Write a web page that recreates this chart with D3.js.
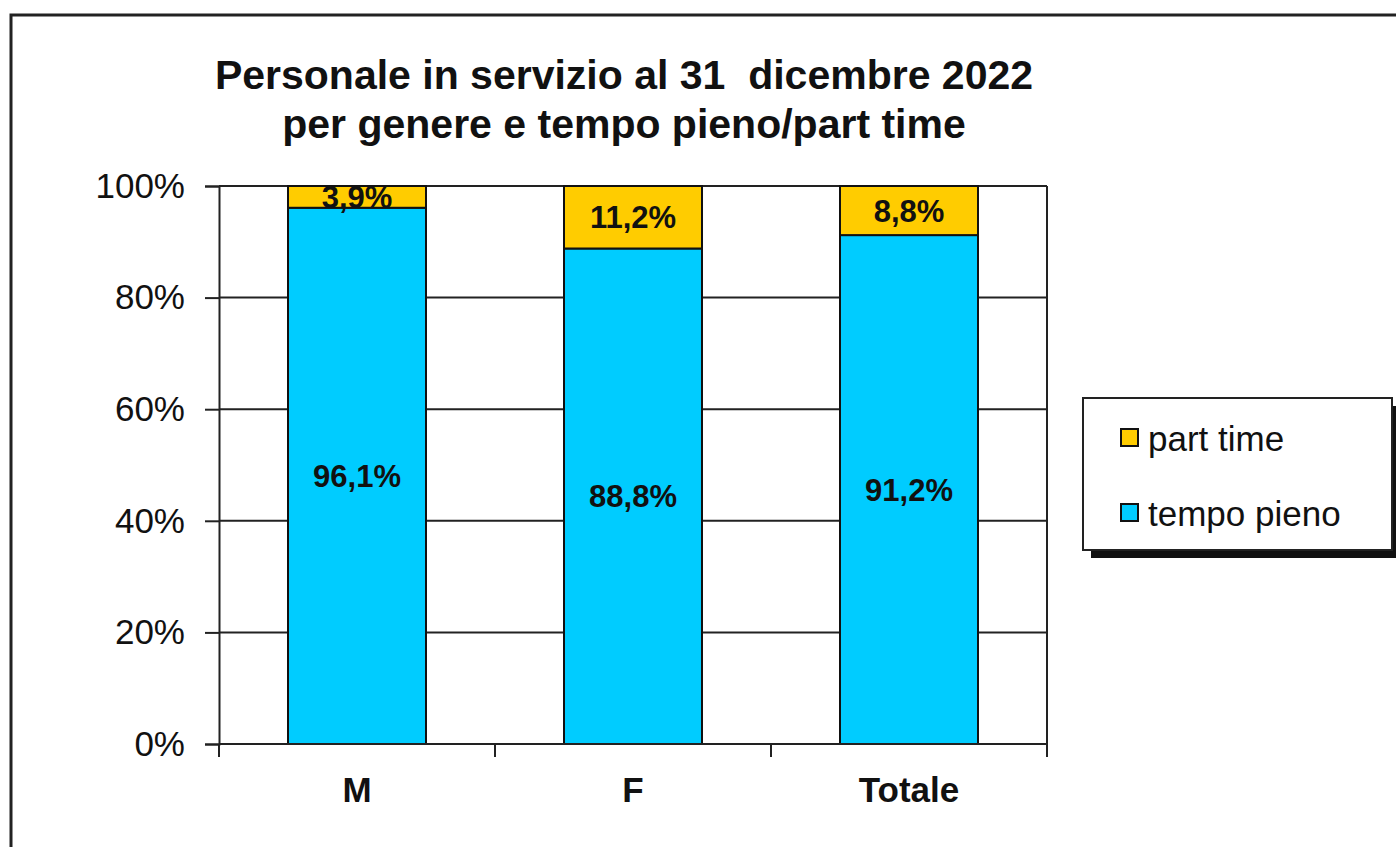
<!DOCTYPE html>
<html>
<head>
<meta charset="utf-8">
<script src="https://cdn.jsdelivr.net/npm/d3@7/dist/d3.min.js"></script>
<style>
  html, body { margin: 0; padding: 0; background: #fff; }
  svg { display: block; }
  text { font-family: "Liberation Sans", Arial, sans-serif; fill: #111; }
</style>
</head>
<body>
<svg id="chart" width="1396" height="847"></svg>
<script>
// Data
const categories = ["M", "F", "Totale"];
const tempoPieno = [96.1, 88.8, 91.2];
const partTime = [3.9, 11.2, 8.8];
const yTicks = [0, 20, 40, 60, 80, 100];
const seriesNames = ["tempo pieno", "part time"];
const seriesColors = ["#00CCFF", "#FFCC00"];
const titleLines = ["Personale in servizio al 31  dicembre 2022", "per genere e tempo pieno/part time"];

const svg = d3.select("#chart");

// outer chart frame
svg.append("rect")
  .attr("x", 11).attr("y", 15)
  .attr("width", 1400).attr("height", 850)
  .attr("fill", "#fff").attr("stroke", "#222").attr("stroke-width", 3);

// title
svg.append("g").selectAll("text").data(titleLines).join("text")
  .attr("x", 624).attr("y", (d, i) => 89 + i * 49)
  .attr("text-anchor", "middle")
  .style("font-size", "41px").style("font-weight", "bold")
  .style("white-space", "pre")
  .text(d => d);

const plot = { left: 219, right: 1047, top: 186, bottom: 744 };

const x = d3.scaleBand().domain(categories)
  .range([plot.left, plot.right]).paddingInner(0.5).paddingOuter(0.25);
const y = d3.scaleLinear().domain([0, 100]).range([plot.bottom, plot.top]);

// gridlines
svg.append("g").selectAll("line").data(yTicks).join("line")
  .attr("x1", plot.left).attr("x2", plot.right)
  .attr("y1", d => y(d)).attr("y2", d => y(d))
  .attr("stroke", "#222").attr("stroke-width", 2);

// right border of plot area
svg.append("line")
  .attr("x1", plot.right).attr("x2", plot.right)
  .attr("y1", plot.top).attr("y2", plot.bottom)
  .attr("stroke", "#222").attr("stroke-width", 2);

// y axis
const yAxis = d3.axisLeft(y).tickValues(yTicks).tickSize(14).tickPadding(20)
  .tickFormat(d => d + "%");
const gy = svg.append("g").attr("transform", `translate(${plot.left},0)`).call(yAxis);
gy.select(".domain").attr("stroke", "#222").attr("stroke-width", 2);
gy.selectAll(".tick line").attr("stroke", "#222").attr("stroke-width", 2);
gy.selectAll(".tick text").style("font-size", "35px").style("font-family", "'Liberation Sans', Arial, sans-serif").attr("fill", "#111");

// stacked bars
const rows = categories.map((c, i) => ({ cat: c, "tempo pieno": tempoPieno[i], "part time": partTime[i] }));
const stacked = d3.stack().keys(seriesNames)(rows);

const layers = svg.append("g").selectAll("g").data(stacked).join("g")
  .attr("fill", (d, i) => seriesColors[i]);
layers.selectAll("rect").data(d => d).join("rect")
  .attr("x", d => x(d.data.cat))
  .attr("width", x.bandwidth())
  .attr("y", d => y(d[1]))
  .attr("height", d => y(d[0]) - y(d[1]))
  .attr("stroke", "#111").attr("stroke-width", 2);

// x axis (bottom)
const xEdges = [plot.left, ...categories.map(c => x(c) + x.bandwidth() / 2 + x.step() / 2)];
svg.append("line")
  .attr("x1", plot.left).attr("x2", plot.right)
  .attr("y1", plot.bottom).attr("y2", plot.bottom)
  .attr("stroke", "#222").attr("stroke-width", 2);
svg.append("g").selectAll("line").data(xEdges).join("line")
  .attr("x1", d => d).attr("x2", d => d)
  .attr("y1", plot.bottom).attr("y2", plot.bottom + 13)
  .attr("stroke", "#222").attr("stroke-width", 2);
svg.append("g").selectAll("text").data(categories).join("text")
  .attr("x", d => x(d) + x.bandwidth() / 2)
  .attr("y", 802)
  .attr("text-anchor", "middle")
  .style("font-size", "35px").style("font-weight", "bold")
  .text(d => d);

// value labels
const fmt = v => v.toFixed(1).replace(".", ",") + "%";
stacked.forEach(layer => {
  svg.append("g").selectAll("text").data(layer).join("text")
    .attr("x", d => x(d.data.cat) + x.bandwidth() / 2)
    .attr("y", d => (y(d[0]) + y(d[1])) / 2)
    .attr("dy", "0.36em")
    .attr("text-anchor", "middle")
    .style("font-size", "31px").style("font-weight", "bold")
    .text(d => fmt(d[1] - d[0]));
});

// legend
const legend = svg.append("g").attr("transform", "translate(1083,398)");
legend.append("rect").attr("x", 8).attr("y", 8).attr("width", 309).attr("height", 152).attr("fill", "#111");
legend.append("rect").attr("x", 0).attr("y", 0).attr("width", 309).attr("height", 152)
  .attr("fill", "#fff").attr("stroke", "#222").attr("stroke-width", 2);
const legendItems = [
  { name: seriesNames[1], color: seriesColors[1] },
  { name: seriesNames[0], color: seriesColors[0] }
];
const li = legend.selectAll("g.item").data(legendItems).join("g")
  .attr("class", "item")
  .attr("transform", (d, i) => `translate(0,${40 + i * 75})`);
li.append("rect").attr("x", 38).attr("y", -9).attr("width", 17).attr("height", 17)
  .attr("fill", d => d.color).attr("stroke", "#111").attr("stroke-width", 2);
li.append("text").attr("x", 65).attr("y", 0).attr("dy", "0.36em")
  .style("font-size", "35px")
  .text(d => d.name);
</script>
</body>
</html>
